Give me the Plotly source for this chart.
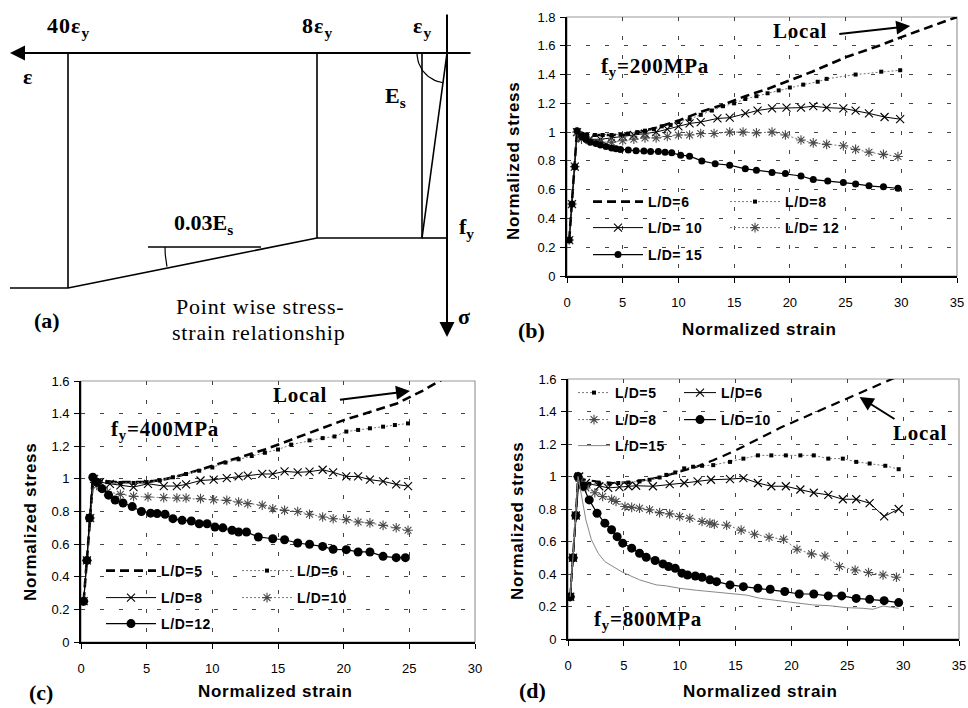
import math
import plotly.graph_objects as go

W, H = 968, 708

# ------------------------------------------------------------------
# (b)  f_y = 200 MPa   (normalized strain, normalized stress)
# ------------------------------------------------------------------
b_ld6_x = [0.2, 0.45, 0.7, 0.9, 1.5, 2.5, 3.5, 5, 6.5, 8, 10, 12, 14, 16, 18, 20, 22, 25, 28, 30, 32.5, 35]
b_ld6_y = [0.25, 0.5, 0.76, 1.01, 0.99, 0.98, 0.98, 0.98, 1.0, 1.03, 1.08, 1.14, 1.19, 1.25, 1.30, 1.36, 1.42, 1.52, 1.60, 1.66, 1.73, 1.8]

b_ld8_x = [0.2, 0.45, 0.7, 0.9, 1.3, 1.8, 2.5, 3.2, 4, 4.8, 5.5, 6.3, 7, 7.8, 8.5, 9.3, 10, 11, 12, 13, 14, 15, 16, 17,
           18, 19, 20, 21.2, 22.5, 23.3, 25.9, 28.2, 29.9]
b_ld8_y = [0.25, 0.5, 0.76, 1.0, 0.98, 0.98, 0.98, 0.98, 0.98, 0.985, 0.99, 1.0, 1.01, 1.02, 1.04, 1.05, 1.07, 1.09, 1.12,
           1.15, 1.18, 1.2, 1.23, 1.25, 1.27, 1.29, 1.31, 1.33, 1.35, 1.37, 1.40, 1.42, 1.43]

b_ld10_x = [0.2, 0.45, 0.7, 0.9, 1.3, 2, 3, 4, 5, 6, 7, 8, 9, 10, 11, 12, 13.5, 14.6, 16, 17.1, 18.4, 19.7, 21, 22.1,
            23.3, 24.8, 25.9, 27.1, 28.5, 29.9]
b_ld10_y = [0.25, 0.5, 0.76, 1.0, 0.96, 0.95, 0.95, 0.96, 0.97, 0.98, 0.99, 1.0, 1.02, 1.04, 1.06, 1.07, 1.095, 1.10,
            1.13, 1.15, 1.165, 1.17, 1.17, 1.18, 1.17, 1.165, 1.15, 1.13, 1.105, 1.09]

b_ld12_x = [0.2, 0.45, 0.7, 0.9, 1.3, 2, 3, 4, 5, 6, 7, 8, 9, 10, 11, 12, 13.2, 14.6, 15.8, 17, 18.4, 19.6, 21, 22.1,
            23.3, 24.8, 25.9, 27.1, 28.4, 29.7]
b_ld12_y = [0.25, 0.5, 0.76, 1.0, 0.95, 0.94, 0.93, 0.93, 0.94, 0.95, 0.96, 0.96, 0.97, 0.98, 0.98, 0.99, 0.99, 1.0,
            1.0, 0.995, 1.0, 0.98, 0.945, 0.925, 0.915, 0.905, 0.88, 0.86, 0.845, 0.83]

b_ld15_x = [0.2, 0.45, 0.7, 0.9, 1.3, 1.7, 2.1, 2.6, 3, 3.5, 4, 4.4, 4.8, 5.5, 6.2, 6.9, 7.5, 8.2, 8.8, 9.4, 10.2, 11,
            12.1, 13.3, 14.6, 16, 17, 18.4, 19.6, 21, 22.1, 23.4, 24.8, 25.9, 27.1, 28.4, 29.7]
b_ld15_y = [0.25, 0.5, 0.76, 1.01, 0.97, 0.95, 0.93, 0.92, 0.91, 0.90, 0.89, 0.885, 0.88, 0.875, 0.87, 0.868, 0.866,
            0.865, 0.86, 0.856, 0.84, 0.833, 0.80, 0.78, 0.77, 0.745, 0.735, 0.72, 0.713, 0.695, 0.67, 0.66, 0.65,
            0.64, 0.627, 0.62, 0.61]

# ------------------------------------------------------------------
# (c)  f_y = 400 MPa
# ------------------------------------------------------------------
c_ld5_x = [0.2, 0.45, 0.7, 0.9, 1.5, 2.5, 3.5, 5, 6.5, 8, 10, 12, 14, 16, 18, 20, 22, 24, 26, 27.5]
c_ld5_y = [0.25, 0.5, 0.76, 1.01, 0.99, 0.98, 0.98, 0.98, 1.0, 1.03, 1.08, 1.13, 1.18, 1.24, 1.30, 1.36, 1.41, 1.46,
           1.54, 1.61]

c_ld6_x = [0.2, 0.45, 0.7, 0.9, 1.3, 2, 3, 4, 5, 6, 7, 8, 9, 10, 11, 12, 13, 14, 15, 16, 17.4, 18.4, 19.3, 20.2, 21.1,
           22, 23, 23.9, 24.9]
c_ld6_y = [0.25, 0.5, 0.76, 1.0, 0.98, 0.98, 0.975, 0.975, 0.98, 0.99, 1.01, 1.03, 1.05, 1.07, 1.1, 1.12, 1.14, 1.16,
           1.18, 1.21, 1.236, 1.25, 1.26, 1.29, 1.30, 1.31, 1.32, 1.33, 1.34]

c_ld8_x = [0.2, 0.45, 0.7, 1.0, 1.45, 2.2, 3, 4, 5.1, 6.3, 7.3, 8, 9.1, 10.1, 11.1, 12, 12.7, 13.8, 14.6, 15.5, 16.5,
           17.4, 18.4, 19.2, 20.2, 21.1, 22, 23, 24, 24.9]
c_ld8_y = [0.25, 0.5, 0.76, 1.0, 0.98, 0.97, 0.96, 0.95, 0.97, 0.956, 0.956, 0.966, 0.99, 0.995, 1.005, 1.015, 1.02,
           1.03, 1.03, 1.046, 1.04, 1.044, 1.056, 1.04, 1.015, 1.015, 0.995, 0.985, 0.966, 0.956]

c_ld10_x = [0.2, 0.45, 0.7, 1.0, 1.2, 2, 3, 4, 5.1, 6.3, 7.3, 8, 9.1, 10.1, 11.1, 12, 12.7, 13.8, 14.6, 15.5, 16.5,
            17.4, 18.4, 19.2, 20.2, 21.1, 22, 23, 24, 24.9]
c_ld10_y = [0.25, 0.5, 0.76, 1.0, 0.96, 0.92, 0.905, 0.893, 0.889, 0.885, 0.883, 0.883, 0.879, 0.872, 0.868, 0.858,
            0.848, 0.838, 0.817, 0.807, 0.80, 0.783, 0.766, 0.756, 0.75, 0.736, 0.73, 0.715, 0.70, 0.685]

c_ld12_x = [0.2, 0.45, 0.65, 0.9, 1.2, 1.6, 2.1, 2.6, 3.2, 3.9, 4.6, 5.3, 5.8, 6.4, 7, 7.7, 8.4, 9, 9.6, 10.2, 10.8,
            11.5, 12, 12.6, 13.5, 14.6, 15.5, 16.5, 17.4, 18.4, 19.2, 20.2, 21.1, 22, 23, 24, 24.7]
c_ld12_y = [0.25, 0.5, 0.76, 1.01, 0.98, 0.94, 0.90, 0.87, 0.852, 0.83, 0.80, 0.79, 0.787, 0.783, 0.756, 0.746, 0.742,
            0.725, 0.725, 0.705, 0.70, 0.685, 0.674, 0.674, 0.644, 0.633, 0.627, 0.607, 0.599, 0.586, 0.568, 0.566,
            0.552, 0.552, 0.525, 0.517, 0.517]

# ------------------------------------------------------------------
# (d)  f_y = 800 MPa
# ------------------------------------------------------------------
d_local_x = [0.2, 0.45, 0.7, 0.9, 1.5, 2.5, 4, 5.5, 7, 8.5, 10, 11.5, 13, 15, 17, 19, 21, 23, 25, 27, 29, 31]
d_local_y = [0.26, 0.5, 0.76, 1.0, 0.98, 0.97, 0.96, 0.965, 0.98, 1.0, 1.03, 1.06, 1.1, 1.16, 1.23, 1.30, 1.36, 1.42,
             1.48, 1.54, 1.6, 1.66]

d_ld5_x = [0.2, 0.45, 0.7, 0.9, 1.05, 1.9, 2.8, 3.7, 4.5, 5.4, 6.4, 7.3, 8.2, 8.8, 9.6, 10.4, 11.2, 12, 13, 14.5, 15.7,
           17, 18.2, 19.5, 20.8, 22, 23.3, 24.6, 25.8, 27, 28.4, 29.6]
d_ld5_y = [0.26, 0.5, 0.76, 1.0, 0.97, 0.955, 0.955, 0.955, 0.96, 0.963, 0.97, 0.98, 0.994, 1.01, 1.025, 1.05, 1.06,
           1.066, 1.07, 1.09, 1.11, 1.13, 1.13, 1.13, 1.13, 1.13, 1.11, 1.11, 1.09, 1.08, 1.066, 1.045]

d_ld6_x = [0.2, 0.45, 0.7, 1.0, 1.6, 2.8, 3.6, 4.6, 5.4, 6.1, 7.6, 9.1, 10.4, 11.6, 12.8, 14.5, 15.7, 17, 18.2, 19.5,
           20.8, 22, 23.3, 24.6, 25.8, 27, 28.3, 29.6]
d_ld6_y = [0.26, 0.5, 0.76, 1.0, 0.96, 0.94, 0.93, 0.935, 0.94, 0.943, 0.94, 0.953, 0.96, 0.97, 0.98, 0.984, 0.99,
           0.96, 0.94, 0.94, 0.92, 0.90, 0.887, 0.86, 0.86, 0.836, 0.754, 0.80]

d_ld8_x = [0.2, 0.45, 0.7, 0.9, 1.1, 1.6, 2.4, 3.1, 3.9, 4.3, 5.1, 5.7, 6.4, 7.3, 8.2, 9.1, 10, 10.9, 12, 12.7, 13.1,
           14.2, 15.5, 16.7, 18, 19.3, 20.5, 21.8, 23, 24.3, 25.7, 26.9, 28.2, 29.4]
d_ld8_y = [0.26, 0.5, 0.76, 1.0, 0.97, 0.93, 0.90, 0.877, 0.86, 0.846, 0.815, 0.81, 0.805, 0.795, 0.778, 0.77, 0.754,
           0.743, 0.723, 0.713, 0.706, 0.70, 0.67, 0.645, 0.626, 0.614, 0.552, 0.524, 0.511, 0.446, 0.425, 0.409,
           0.394, 0.38]

d_ld10_x = [0.2, 0.45, 0.7, 0.9, 1.35, 1.9, 2.6, 3.3, 3.9, 4.4, 4.9, 5.7, 6.4, 7, 7.8, 8.5, 9, 9.6, 10.2, 10.7, 11.4,
            12, 12.7, 13.3, 14.5, 15.7, 17, 18.1, 19.4, 20.7, 22, 23.3, 24.5, 25.8, 27, 28.3, 29.6]
d_ld10_y = [0.26, 0.5, 0.76, 1.0, 0.94, 0.856, 0.774, 0.713, 0.672, 0.63, 0.59, 0.559, 0.528, 0.503, 0.483, 0.462,
            0.446, 0.435, 0.405, 0.394, 0.388, 0.38, 0.364, 0.353, 0.333, 0.322, 0.312, 0.306, 0.292, 0.277, 0.277,
            0.265, 0.265, 0.25, 0.244, 0.236, 0.224]

d_ld15_x = [0.2, 0.45, 0.7, 0.9, 1.35, 1.6, 2.1, 2.7, 3.3, 4, 4.9, 6.4, 7.9, 8.8, 10, 11.5, 13, 14.5, 16, 17.2, 18.4,
            19.9, 21.2, 21.9, 23.4, 24.9, 26.4, 27.3, 28.2, 29.6]
d_ld15_y = [0.26, 0.5, 0.76, 1.0, 0.836, 0.733, 0.61, 0.528, 0.476, 0.446, 0.41, 0.364, 0.333, 0.327, 0.312, 0.30,
            0.29, 0.28, 0.27, 0.25, 0.24, 0.23, 0.22, 0.21, 0.205, 0.193, 0.189, 0.183, 0.203, 0.189]

# Axis ranges
x_range_b, y_range_b = [0, 35], [0, 1.8]
x_range_c, y_range_c = [0, 30], [0, 1.6]
x_range_d, y_range_d = [0, 35], [0, 1.6]

# ------------------------------------------------------------------
# (a)  schematic point-wise stress-strain law (sketch coordinates)
# ------------------------------------------------------------------
sk_origin = (447, 53)
sk_eps_x = [422, 317, 68]           # eps_y, 8 eps_y, 40 eps_y
sk_eps_lbl = ["ε<sub>y</sub>", "8ε<sub>y</sub>", "40ε<sub>y</sub>"]
sk_fy_level = 238
sk_end_level = 288
sk_left_end = 10

# ------------------------------------------------------------------
SANS = "Liberation Sans, Arial, sans-serif"
SERIF = "Liberation Serif, Times New Roman, serif"
GRAY = "#777777"


def ls(text, sp):
    return '<span style="letter-spacing:%spx">%s</span>' % (sp, text)


fig = go.Figure()


def series(x, y, xa, ya, name, legend, line, marker=None, mode="lines+markers", showlegend=True):
    fig.add_trace(go.Scatter(
        x=x, y=y, xaxis=xa, yaxis=ya, name=ls(name, 0.6), legend=legend, mode=mode,
        line=line, marker=marker or dict(size=1), showlegend=showlegend, hoverinfo="skip"))


DASH = dict(color="black", width=2.6, dash="9px,5px")


def DOTS():
    return dict(color=GRAY, width=1, dash="2px,2px"), dict(symbol="square", size=4, color="black")


def XMK():
    return dict(color="black", width=1), dict(symbol="x-thin", size=8, line=dict(width=1.1, color="black"))


def AST():
    return dict(color=GRAY, width=1, dash="2px,2px"), dict(symbol="asterisk", size=8, line=dict(width=1.1, color="#4a4a4a"))


def dots(size, w=1.2):
    return dict(color="black", width=w), dict(symbol="circle", size=size, color="black")


# (b)
series(b_ld6_x, b_ld6_y, "x", "y", "L/D=6", "legend", DASH, mode="lines")
l, m = DOTS(); series(b_ld8_x, b_ld8_y, "x", "y", "L/D=8", "legend", l, m)
l, m = XMK(); series(b_ld10_x, b_ld10_y, "x", "y", "L/D= 10", "legend2", l, m)
l, m = AST(); series(b_ld12_x, b_ld12_y, "x", "y", "L/D= 12", "legend2", l, m)
l, m = dots(7); series(b_ld15_x, b_ld15_y, "x", "y", "L/D= 15", "legend3", l, m)

# (c)
series(c_ld5_x, c_ld5_y, "x2", "y2", "L/D=5", "legend4", DASH, mode="lines")
l, m = DOTS(); series(c_ld6_x, c_ld6_y, "x2", "y2", "L/D=6", "legend4", l, m)
l, m = XMK(); series(c_ld8_x, c_ld8_y, "x2", "y2", "L/D=8", "legend5", l, m)
l, m = AST(); series(c_ld10_x, c_ld10_y, "x2", "y2", "L/D=10", "legend5", l, m)
l, m = dots(9); series(c_ld12_x, c_ld12_y, "x2", "y2", "L/D=12", "legend6", l, m)

# (d)
series(d_local_x, d_local_y, "x3", "y3", "Local", "legend7", dict(color="black", width=2.2, dash="9px,6px"),
       mode="lines", showlegend=False)
l, m = DOTS(); series(d_ld5_x, d_ld5_y, "x3", "y3", "L/D=5", "legend7", l, m)
l, m = XMK(); series(d_ld6_x, d_ld6_y, "x3", "y3", "L/D=6", "legend7", l, m)
l, m = AST(); series(d_ld8_x, d_ld8_y, "x3", "y3", "L/D=8", "legend8", l, m)
l, m = dots(9); series(d_ld10_x, d_ld10_y, "x3", "y3", "L/D=10", "legend8", l, m)
series(d_ld15_x, d_ld15_y, "x3", "y3", "L/D=15", "legend9", dict(color="#888888", width=1), mode="lines")

# (a) sketch lines
ox, oy = sk_origin


def sk_line(xs, ys, width=1.6):
    fig.add_trace(go.Scatter(x=xs, y=ys, xaxis="x4", yaxis="y4", mode="lines",
                             line=dict(color="black", width=width), showlegend=False, hoverinfo="skip"))


# stress-strain path
sk_line([ox, sk_eps_x[0], sk_eps_x[1], sk_eps_x[2], sk_left_end],
        [oy, sk_fy_level, sk_fy_level, sk_end_level, sk_end_level])
sk_line([sk_eps_x[0], ox], [sk_fy_level, sk_fy_level])
# drop lines from the strain marks
sk_line([sk_eps_x[0], sk_eps_x[0]], [oy, sk_fy_level])
sk_line([sk_eps_x[1], sk_eps_x[1]], [oy, sk_fy_level])
sk_line([sk_eps_x[2], sk_eps_x[2]], [oy, sk_end_level])
# reference horizontal for the hardening slope
sk_line([148, 261], [247, 247], width=1.4)
# angle arcs
ang_e = math.atan2(sk_fy_level - oy, sk_eps_x[0] - ox)
arc_t = [ang_e + (math.pi - ang_e) * k / 20 for k in range(21)]
sk_line([ox + 30 * math.cos(t) for t in arc_t], [oy + 30 * math.sin(t) for t in arc_t], width=1.2)
ang_h = math.atan2(sk_end_level - sk_fy_level, sk_eps_x[2] - sk_eps_x[1])
cx, cy = 265, 247
arc_h = [ang_h + (math.pi - ang_h) * k / 12 for k in range(13)]
sk_line([cx + 100 * math.cos(t) for t in arc_h], [cy + 100 * math.sin(t) for t in arc_h], width=1.2)

# ------------------------------------------------------------------
# axes
# ------------------------------------------------------------------
TICKF = dict(family=SANS, size=13, color="black")


def xaxis(dom, rng, anchor):
    return dict(domain=dom, range=rng, dtick=5, tick0=0, anchor=anchor, showgrid=True, gridcolor="#444",
                griddash="4px,15px", gridwidth=1, zeroline=False, showline=True, linecolor="black", linewidth=1.6,
                ticks="outside", ticklen=5, tickwidth=1.2, tickcolor="black", tickfont=TICKF,
                ticklabelstandoff=9, fixedrange=True, automargin=False)


def yaxis(dom, rng, anchor):
    return dict(domain=dom, range=rng, dtick=0.2, tick0=0, anchor=anchor, showgrid=True, gridcolor="#444",
                griddash="4px,15px", gridwidth=1, zeroline=False, showline=True, linecolor="black", linewidth=1.6,
                ticks="outside", ticklen=5, tickwidth=1.2, tickcolor="black", tickfont=TICKF,
                ticklabelstandoff=2, fixedrange=True, automargin=False)


def dom_x(a, b):
    return [a / W, b / W]


def dom_y(top, bottom):
    return [1 - bottom / H, 1 - top / H]


layout = dict(
    width=W, height=H, margin=dict(l=0, r=0, t=0, b=0, pad=0, autoexpand=False),
    paper_bgcolor="white", plot_bgcolor="white",
    xaxis=xaxis(dom_x(567, 957), x_range_b, "y"), yaxis=yaxis(dom_y(17, 276), y_range_b, "x"),
    xaxis2=xaxis(dom_x(81, 475), x_range_c, "y2"), yaxis2=yaxis(dom_y(381, 642), y_range_c, "x2"),
    xaxis3=xaxis(dom_x(568, 959), x_range_d, "y3"), yaxis3=yaxis(dom_y(379, 639), y_range_d, "x3"),
    xaxis4=dict(domain=dom_x(0, 480), range=[0, 480], visible=False, fixedrange=True, anchor="y4", automargin=False),
    yaxis4=dict(domain=dom_y(0, 345), range=[345, 0], visible=False, fixedrange=True, anchor="x4", automargin=False),
)

# one legend per row, two entries per row
LEGF = dict(family=SANS, size=14, color="black", weight="bold")


def legend_row(x_px, y_px, itemwidth, entrywidth):
    return dict(orientation="h", x=x_px / W, y=1 - y_px / H, xanchor="left", yanchor="middle",
                bgcolor="rgba(0,0,0,0)", borderwidth=0, font=LEGF, itemwidth=itemwidth,
                entrywidth=entrywidth, entrywidthmode="pixels", itemclick=False, itemdoubleclick=False)


rows = [
    ("legend", 588, 202, 50, 72), ("legend2", 588, 228, 50, 72), ("legend3", 588, 255, 50, 72),
    ("legend4", 101, 571, 50, 71), ("legend5", 101, 598, 50, 71), ("legend6", 101, 624, 50, 71),
    ("legend7", 573, 393, 32, 59), ("legend8", 573, 420, 32, 59), ("legend9", 573, 446, 32, 59),
]
for key, lx, lyy, iw, ew in rows:
    layout[key] = legend_row(lx, lyy, iw, ew)

fig.update_layout(**layout)

# gray plot-area frames
for xa, ya in [("x", "y"), ("x2", "y2"), ("x3", "y3")]:
    fig.add_shape(type="rect", xref=xa + " domain", yref=ya + " domain", x0=0, x1=1, y0=0, y1=1,
                  line=dict(color="#9a9a9a", width=1.2), layer="below")

# ------------------------------------------------------------------
# annotations
# ------------------------------------------------------------------
ann = []
TITLEF = dict(family=SANS, size=17, color="black", weight="bold")


def paper_text(text, x_px, y_px, font, angle=0):
    ann.append(dict(text=text, x=x_px / W, y=1 - y_px / H, xref="paper", yref="paper", showarrow=False,
                    font=font, textangle=angle, xanchor="center", yanchor="middle"))


for cx_, cy_ in [(759, 329), (275, 691), (760, 691)]:
    paper_text(ls("Normalized strain", 0.7), cx_, cy_, TITLEF)
for cx_, cy_ in [(513, 161), (30, 522), (517, 521)]:
    paper_text(ls("Normalized stress", 0.7), cx_, cy_, TITLEF, angle=-90)

LABF = dict(family=SERIF, size=22, color="black", weight="bold")
paper_text("(a)", 47, 320, LABF)
paper_text("(b)", 531, 330, LABF)
paper_text("(c)", 41, 692, LABF)
paper_text("(d)", 532, 690, LABF)

SERB = dict(family=SERIF, size=21, color="black", weight="bold")


def data_text(text, x, y, xa, ya, font):
    ann.append(dict(text=text, x=x, y=y, xref=xa, yref=ya, showarrow=False, font=font,
                    xanchor="center", yanchor="middle"))


def data_arrow(x, y, ax, ay, xa, ya, size=1.6, width=1.5):
    ann.append(dict(text="", x=x, y=y, ax=ax, ay=ay, xref=xa, yref=ya, axref=xa, ayref=ya,
                    showarrow=True, arrowhead=2, arrowsize=size, arrowwidth=width, arrowcolor="black"))


data_text(ls("f<sub>y</sub>=200MPa", 0.8), 7.9, 1.45, "x", "y", SERB)
data_text(ls("Local", 0.8), 20.9, 1.70, "x", "y", SERB)
data_arrow(30.8, 1.737, 24.3, 1.68, "x", "y", size=1.4, width=2)

data_text(ls("f<sub>y</sub>=400MPa", 0.8), 6.4, 1.30, "x2", "y2", SERB)
data_text(ls("Local", 0.8), 16.7, 1.514, "x2", "y2", SERB)
data_arrow(25.05, 1.539, 19.6, 1.484, "x2", "y2", size=1.4, width=2)

data_text(ls("f<sub>y</sub>=800MPa", 0.8), 7.16, 0.117, "x3", "y3", SERB)
data_text(ls("Local", 0.8), 31.5, 1.268, "x3", "y3", SERB)
data_arrow(26.1, 1.489, 29.36, 1.348, "x3", "y3", size=1.4, width=2)

# sketch labels and axes
SKF = dict(family=SERIF, size=22, color="black", weight="bold")
for xs_, lbl in zip(sk_eps_x, sk_eps_lbl):
    data_text(ls(lbl, 1), xs_, 27, "x4", "y4", SKF)
data_text("ε", 27, 76, "x4", "y4", SKF)
data_text("E<sub>s</sub>", 395, 97, "x4", "y4", SKF)
data_text("0.03E<sub>s</sub>", 203, 224, "x4", "y4", SKF)
data_text("f<sub>y</sub>", 466, 228, "x4", "y4", SKF)
data_text("σ", 464, 316, "x4", "y4", SKF)
data_text(ls("Point wise stress-", 0.8), 260, 306, "x4", "y4", dict(family=SERIF, size=22, color="black"))
data_text(ls("strain relationship", 0.8), 258, 332, "x4", "y4", dict(family=SERIF, size=22, color="black"))
data_arrow(sk_left_end, oy, 472, oy, "x4", "y4", size=1.5, width=2)
data_arrow(ox, 337, ox, 13, "x4", "y4", size=1.5, width=2)

fig.update_layout(annotations=ann)

fig.write_html("out.html")
